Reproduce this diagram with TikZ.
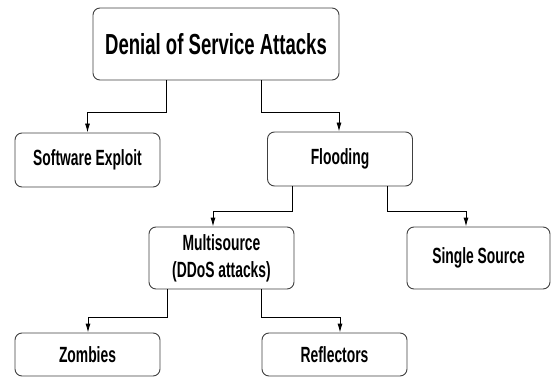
\documentclass[tikz,border=0pt]{standalone}
\usepackage{fontspec}
\newfontfamily\dosfont[FakeStretch=0.63]{Liberation Sans}
\newfontfamily\dostitlefont[FakeStretch=0.64]{Liberation Sans}
\usetikzlibrary{arrows.meta, positioning}

\begin{document}
\begin{tikzpicture}[x=1pt, y=-1pt,
    s/.style={rectangle, draw=black!75, line width=0.9pt, rounded corners=7pt, fill=white, inner sep=0pt, minimum width=145pt, minimum height=54pt, align=center, font=\dosfont\bfseries\fontsize{22}{27}\selectfont},
    r/.style={s, minimum width=246pt, minimum height=72pt, font=\dostitlefont\bfseries\fontsize{29}{34}\selectfont},
    arrow/.style={line width=0.9pt, -{Latex[length=9pt, width=5pt]}}]
    \useasboundingbox (0,0) rectangle (551,377);
    \node[r] (dos) at (216,44) {Denial of Service Attacks};
    \node[s] (se) at (87.5,160) {Software Exploit};
    \node[s] (fl) at (340,159) {Flooding};
    \node[s, minimum height=62pt] (ms) at (221.5,258) {Multisource\\(DDoS attacks)};
    \node[s, minimum width=143pt, minimum height=62pt] (ss) at (478.5,258) {Single Source};
    \node[s, minimum height=43pt] (zo) at (87.5,354.5) {Zombies};
    \node[s, minimum height=43pt] (re) at (334.5,354.5) {Reflectors};
    \draw[arrow] ([xshift=-50pt]dos.south) -- ++(0,32) -| (se.north);
    \draw[arrow] ([xshift=45pt]dos.south) -- ++(0,32) -| ([xshift=-1pt]fl.north);
    \draw[arrow] ([xshift=-48pt]fl.south) -- ++(0,25) -| ([xshift=-8.5pt]ms.north);
    \draw[arrow] ([xshift=47pt]fl.south) -- ++(0,25) -| ([xshift=-12.5pt]ss.north);
    \draw[arrow] ([xshift=-54.5pt]ms.south) -- ++(0,28) -| ([xshift=0.5pt]zo.north);
    \draw[arrow] ([xshift=39.5pt]ms.south) -- ++(0,28) -| ([xshift=5.5pt]re.north);
\end{tikzpicture}
\end{document}
